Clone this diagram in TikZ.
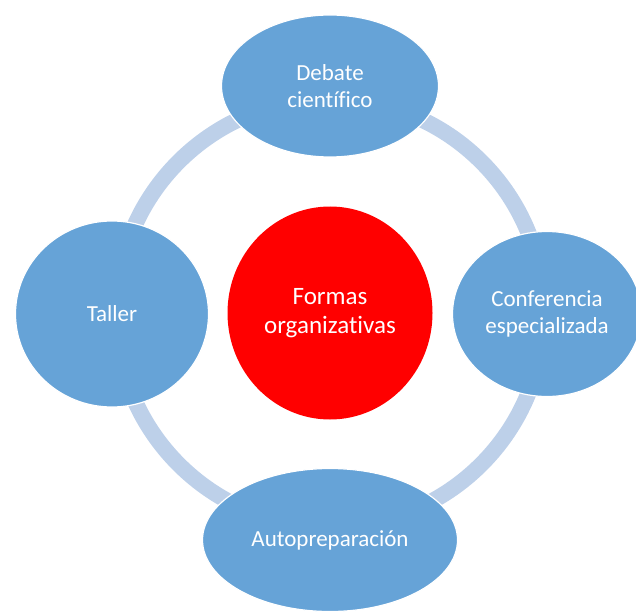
\documentclass[tikz,border=0pt]{standalone}
\usepackage{fontspec}
\setmainfont{Carlito}[Ligatures=CommonOff]
\usetikzlibrary{shapes.geometric}
\definecolor{nodoazul}{RGB}{102,163,215}
\definecolor{anillo}{RGB}{189,208,233}
\definecolor{rojo}{RGB}{255,0,0}

\begin{document}
\begin{tikzpicture}[x=1pt,y=-1pt,
    forma/.style={ellipse,fill=nodoazul,draw=white,line width=1.2pt,inner sep=0pt,
      text=white,align=center,font=\fontsize{23}{27.5}\selectfont},
    centro/.style={ellipse,fill=rojo,inner sep=0pt,
      text=white,align=center,font=\fontsize{25}{29}\selectfont},
    ciclo/.style={draw=anillo,line width=16pt}]
                \useasboundingbox (0,0) rectangle (636,612);
                \coordinate (O) at (330,313);

                % anillo detras de los nodos
                \draw[ciclo] (O) circle (214pt);

                \node[centro,minimum width=205,minimum height=213] (formas) at (O) {Formas\\organizativas};

                \node[forma,minimum width=217,minimum height=142] (debate) at (330,86) {Debate\\científico};
                \node[forma,minimum width=193,minimum height=186] (taller) at (112,314) {Taller};
                \node[forma,minimum width=189,minimum height=165] (conferencia) at (547,314) {Conferencia\\especializada};
                \node[forma,minimum width=255,minimum height=143] (autoprep) at (330,540) {Autopreparación};
            \end{tikzpicture}
\end{document}
